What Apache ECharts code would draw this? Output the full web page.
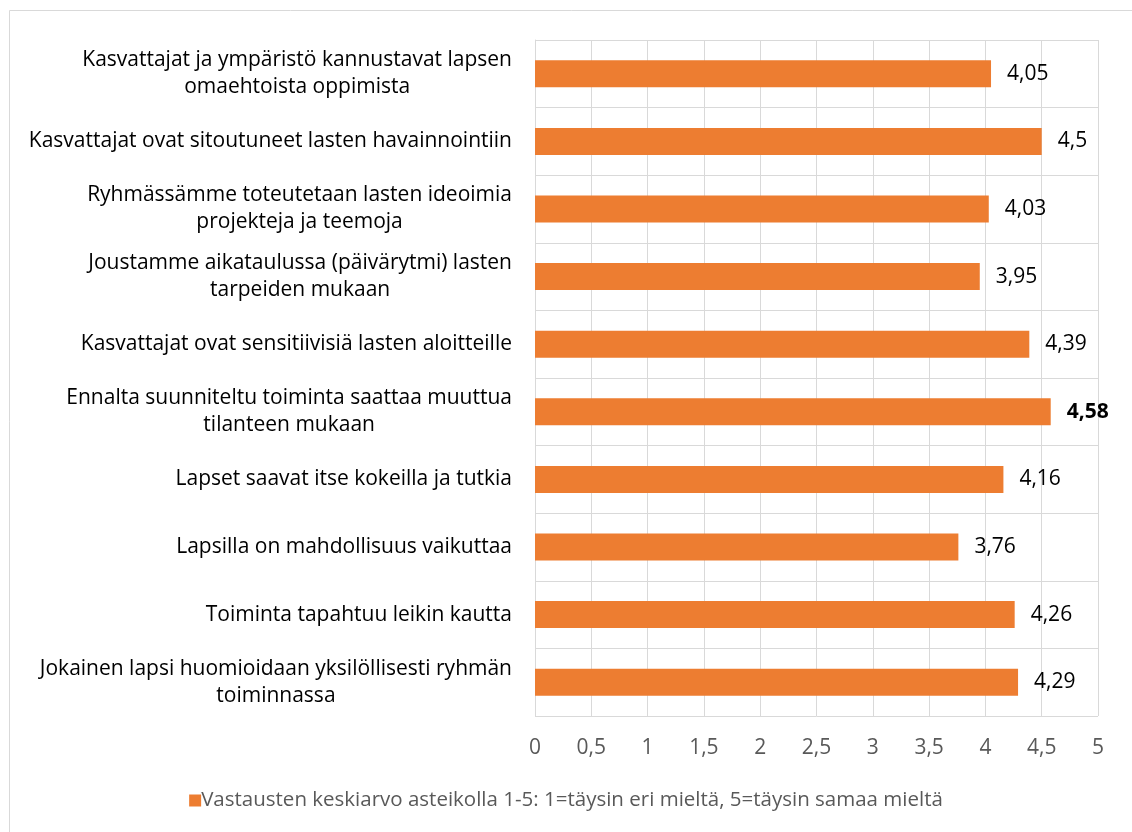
<!DOCTYPE html>
<html>
<head>
<meta charset="utf-8">
<script src="https://cdn.jsdelivr.net/npm/echarts@6/dist/echarts.min.js"></script>
<style>
html, body { margin: 0; padding: 0; background: #fff; }
#chart { width: 1132px; height: 832px; }
</style>
</head>
<body>
<div id="chart"></div>
<script>
var categories = [
	'Kasvattajat ja ympäristö kannustavat lapsen\nomaehtoista oppimista',
	'Kasvattajat ovat sitoutuneet lasten havainnointiin',
	'Ryhmässämme toteutetaan lasten ideoimia\nprojekteja ja teemoja',
	'Joustamme aikataulussa (päivärytmi) lasten\ntarpeiden mukaan',
	'Kasvattajat ovat sensitiivisiä lasten aloitteille',
	'Ennalta suunniteltu toiminta saattaa muuttua\ntilanteen mukaan',
	'Lapset saavat itse kokeilla ja tutkia',
	'Lapsilla on mahdollisuus vaikuttaa',
	'Toiminta tapahtuu leikin kautta',
	'Jokainen lapsi huomioidaan yksilöllisesti ryhmän\ntoiminnassa'
];
var averages = [4.05, 4.5, 4.03, 3.95, 4.39, 4.58, 4.16, 3.76, 4.26, 4.29];
var seriesName = 'Vastausten keskiarvo asteikolla 1-5: 1=täysin eri mieltä, 5=täysin samaa mieltä';

var FONT = '"Open Sans"';
var FS = 21;
var fi = function (v) { return String(v).replace('.', ','); };
var maxVal = Math.max.apply(null, averages);

var chart = echarts.init(document.getElementById('chart'));
chart.setOption({
	backgroundColor: '#fff',
	animation: false,
	textStyle: { fontFamily: FONT },
	graphic: [{
		type: 'rect',
		shape: { x: 9.5, y: 10.5, width: 1130, height: 830 },
		style: { fill: 'none', stroke: '#d9d9d9', lineWidth: 1 }
	}],
	grid: { left: 535, right: 34, top: 40, bottom: 116, containLabel: false },
	legend: {
		bottom: 16,
		left: 'center',
		itemWidth: 12,
		itemHeight: 12,
		itemGap: 10,
		icon: 'rect',
		textStyle: { fontFamily: FONT, fontSize: 20.5, color: '#595959', padding: [0, 0, 0, -5] },
		data: [seriesName]
	},
	xAxis: {
		type: 'value',
		min: 0,
		max: 5,
		interval: 0.5,
		axisLine: { show: false },
		axisTick: { show: false },
		splitLine: { lineStyle: { color: '#d9d9d9', width: 1 } },
		axisLabel: {
			color: '#595959',
			fontSize: FS,
			margin: 22,
			formatter: function (v) { return fi(v); }
		}
	},
	yAxis: {
		type: 'category',
		inverse: true,
		data: categories,
		axisLine: { show: true, lineStyle: { color: '#d9d9d9' } },
		axisTick: { show: false },
		splitLine: { show: true, lineStyle: { color: '#d9d9d9' } },
		axisLabel: {
			margin: 23,
			color: '#000',
			fontSize: FS,
			formatter: function (v) { return '{c|' + v.split('\n').join('}\n{c|') + '}'; },
			rich: { c: { align: 'center', fontSize: FS, lineHeight: 27, color: '#000', fontFamily: FONT } }
		}
	},
	series: [{
		name: seriesName,
		type: 'bar',
		barWidth: 27,
		itemStyle: { color: '#ed7d31' },
		data: averages.map(function (v) {
			return {
				value: v,
				label: { fontWeight: v === maxVal ? 'bold' : 'normal' }
			};
		}),
		label: {
			show: true,
			position: 'right',
			distance: 16,
			color: '#000',
			fontSize: FS,
			fontFamily: FONT,
			formatter: function (p) { return fi(p.value); }
		}
	}]
});
</script>
</body>
</html>
